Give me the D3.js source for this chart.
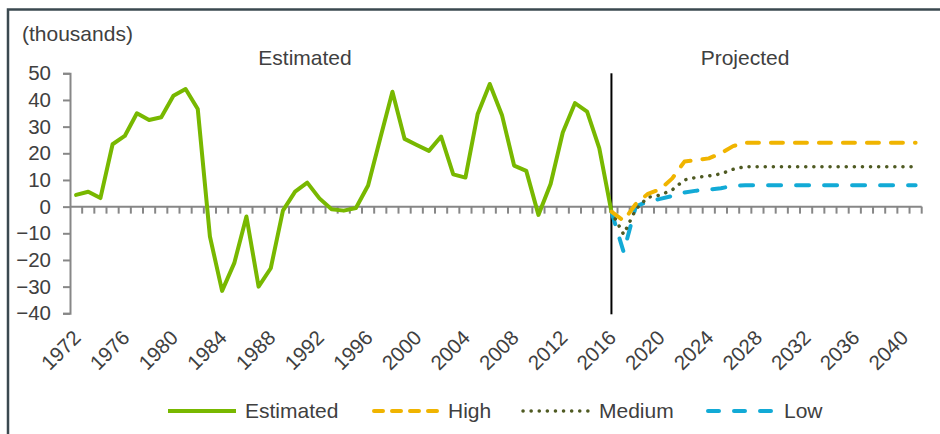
<!DOCTYPE html>
<html>
<head>
<meta charset="utf-8">
<script src="https://cdn.jsdelivr.net/npm/d3@7"></script>
<style>
  html, body { margin: 0; padding: 0; background: #fff; }
  svg { display: block; font-family: "Liberation Sans", Arial, sans-serif; }
</style>
</head>
<body>
<svg id="chart" width="940" height="434"></svg>
<script>
// ---- data ----
const years = [1972,1973,1974,1975,1976,1977,1978,1979,1980,1981,1982,1983,1984,1985,1986,1987,1988,1989,1990,1991,
  1992,1993,1994,1995,1996,1997,1998,1999,2000,2001,2002,2003,2004,2005,2006,2007,2008,2009,2010,2011,
  2012,2013,2014,2015,2016,2017,2018,2019,2020,2021,2022,2023,2024,2025,2026,2027,2028,2029,2030,2031,
  2032,2033,2034,2035,2036,2037,2038,2039,2040,2041];
const tickYears = [1972,1976,1980,1984,1988,1992,1996,2000,2004,2008,2012,2016,2020,2024,2028,2032,2036,2040];
const yTicks = [50,40,30,20,10,0,-10,-20,-30,-40];

// 1972-2016
const estimated = [4.4,5.6,3.2,23.4,26.5,35,32.5,33.5,41.6,44.1,36.6,-11.2,-31.6,-21.2,-3.7,-30,-23.1,-1.5,5.6,9,
  3.1,-1,-1.5,-0.5,7.9,25.6,43.1,25.4,23.1,20.9,26.3,12.1,10.9,34.6,46,34.4,15.4,13.4,-3.1,8.5,
  27.8,38.8,35.6,21.9,-1.9];
// 2016-2041
const projYears = years.slice(years.indexOf(2016));
const high   = [-1.9,-5.3,1,4.8,6.5,10.6,16.9,17.5,18.1,20,22.7,24,24,24,24,24,24,24,24,24,24,24,24,24,24,24];
const medium = [-1.9,-10.4,-1,3.5,4.3,6.3,10,11,11.5,12.3,14,15,15,15,15,15,15,15,15,15,15,15,15,15,15,15];
const low    = [-1.9,-17,0,2,2.9,4,5.3,6,6.4,6.9,7.8,8,8,8,8,8,8,8,8,8,8,8,8,8,8,8];

const colors = {Estimated:"#78b800", High:"#f0b400", Medium:"#4f5a22", Low:"#12aad6"};

// ---- layout ----
const svg = d3.select("#chart");
const pLeft = 70, pRight = 921.7, pTop = 73.3, pBottom = 313.3;

const x = d3.scaleBand().domain(years).range([pLeft, pRight]).padding(0);
const cx = d => x(d) + x.bandwidth()/2;
const y = d3.scaleLinear().domain([-40, 50]).range([pBottom, pTop]);

const textColor = "#404040";
const axisColor = "#878787";

// frame
svg.append("path")
  .attr("d", `M8,434 L8,9.5 L940,9.5`)
  .attr("fill","none").attr("stroke","#3b4950").attr("stroke-width",2.5);

// y axis
const yAxis = d3.axisLeft(y).tickValues(yTicks).tickSize(7).tickPadding(12).tickFormat(d3.format("d"));
const gy = svg.append("g").attr("transform",`translate(${pLeft},0)`).call(yAxis);
gy.select(".domain").attr("stroke",axisColor).attr("stroke-width",2);
gy.selectAll(".tick line").attr("stroke",axisColor).attr("stroke-width",2);
gy.selectAll(".tick text").attr("fill",textColor).style("font-size","20.5px")
  .style("font-family",'"Liberation Sans", Arial, sans-serif');

// x axis at zero: ticks between categories
const gx = svg.append("g");
gx.append("line").attr("x1",pLeft).attr("x2",pRight).attr("y1",y(0)).attr("y2",y(0))
  .attr("stroke",axisColor).attr("stroke-width",2);
gx.selectAll("line.tk").data(years).join("line").attr("class","tk")
  .attr("x1",d=>x(d)+x.bandwidth()).attr("x2",d=>x(d)+x.bandwidth())
  .attr("y1",y(0)).attr("y2",y(0)+7)
  .attr("stroke",axisColor).attr("stroke-width",2);

// x labels (low position, rotated)
svg.append("g").selectAll("text").data(tickYears).join("text")
  .attr("transform",d=>`translate(${cx(d)+6},339) rotate(-45)`)
  .attr("text-anchor","end")
  .attr("fill",textColor).style("font-size","20.5px")
  .text(d=>d);

// separator
svg.append("line").attr("x1",cx(2016)).attr("x2",cx(2016)).attr("y1",pTop).attr("y2",pBottom+1)
  .attr("stroke","#000").attr("stroke-width",2);

// header texts
svg.append("text").attr("x",22).attr("y",41).attr("fill",textColor).style("font-size","21px").text("(thousands)");
svg.append("text").attr("x",305).attr("y",65).attr("text-anchor","middle").attr("fill",textColor).style("font-size","21px").text("Estimated");
svg.append("text").attr("x",745).attr("y",65).attr("text-anchor","middle").attr("fill",textColor).style("font-size","21px").text("Projected");

// lines
const line = d3.line().x(d=>cx(d[0])).y(d=>y(d[1]));
const styles = {
  Estimated:{w:4, dash:null, cap:"round"},
  High:{w:4, dash:"12,12", cap:"round"},
  Medium:{w:3.5, dash:"0.1,8", cap:"round"},
  Low:{w:4, dash:"13,15", cap:"round"}
};
const data = {
  Estimated: years.slice(0, estimated.length).map((yr,i)=>[yr, estimated[i]]),
  Low: projYears.map((yr,i)=>[yr, low[i]]),
  Medium: projYears.map((yr,i)=>[yr, medium[i]]),
  High: projYears.map((yr,i)=>[yr, high[i]])
};
["Estimated","Low","Medium","High"].forEach(n=>{
  const s = styles[n];
  const p = svg.append("path").datum(data[n]).attr("d",line)
    .attr("fill","none").attr("stroke",colors[n]).attr("stroke-width",s.w)
    .attr("stroke-linejoin","round").attr("stroke-linecap",s.cap);
  if (s.dash) p.attr("stroke-dasharray",s.dash);
});

// legend
const legendItems = [
  {name:"Estimated", x1:168, x2:236, tx:245},
  {name:"High", x1:374, x2:442, tx:448},
  {name:"Medium", x1:523, x2:592, tx:599},
  {name:"Low", x1:708, x2:778, tx:784}
];
const lg = svg.append("g");
legendItems.forEach(it=>{
  const s = styles[it.name];
  const l = lg.append("line").attr("x1",it.x1).attr("x2",it.x2).attr("y1",411).attr("y2",411)
    .attr("stroke",colors[it.name]).attr("stroke-width",s.w).attr("stroke-linecap",it.name==="Estimated"?"butt":s.cap);
  if (s.dash) l.attr("stroke-dasharray", it.name==="High" ? "9,9" : it.name==="Low" ? "11,15" : s.dash);
  lg.append("text").attr("x",it.tx).attr("y",418).attr("fill",textColor).style("font-size","21px").text(it.name);
});
</script>
</body>
</html>
